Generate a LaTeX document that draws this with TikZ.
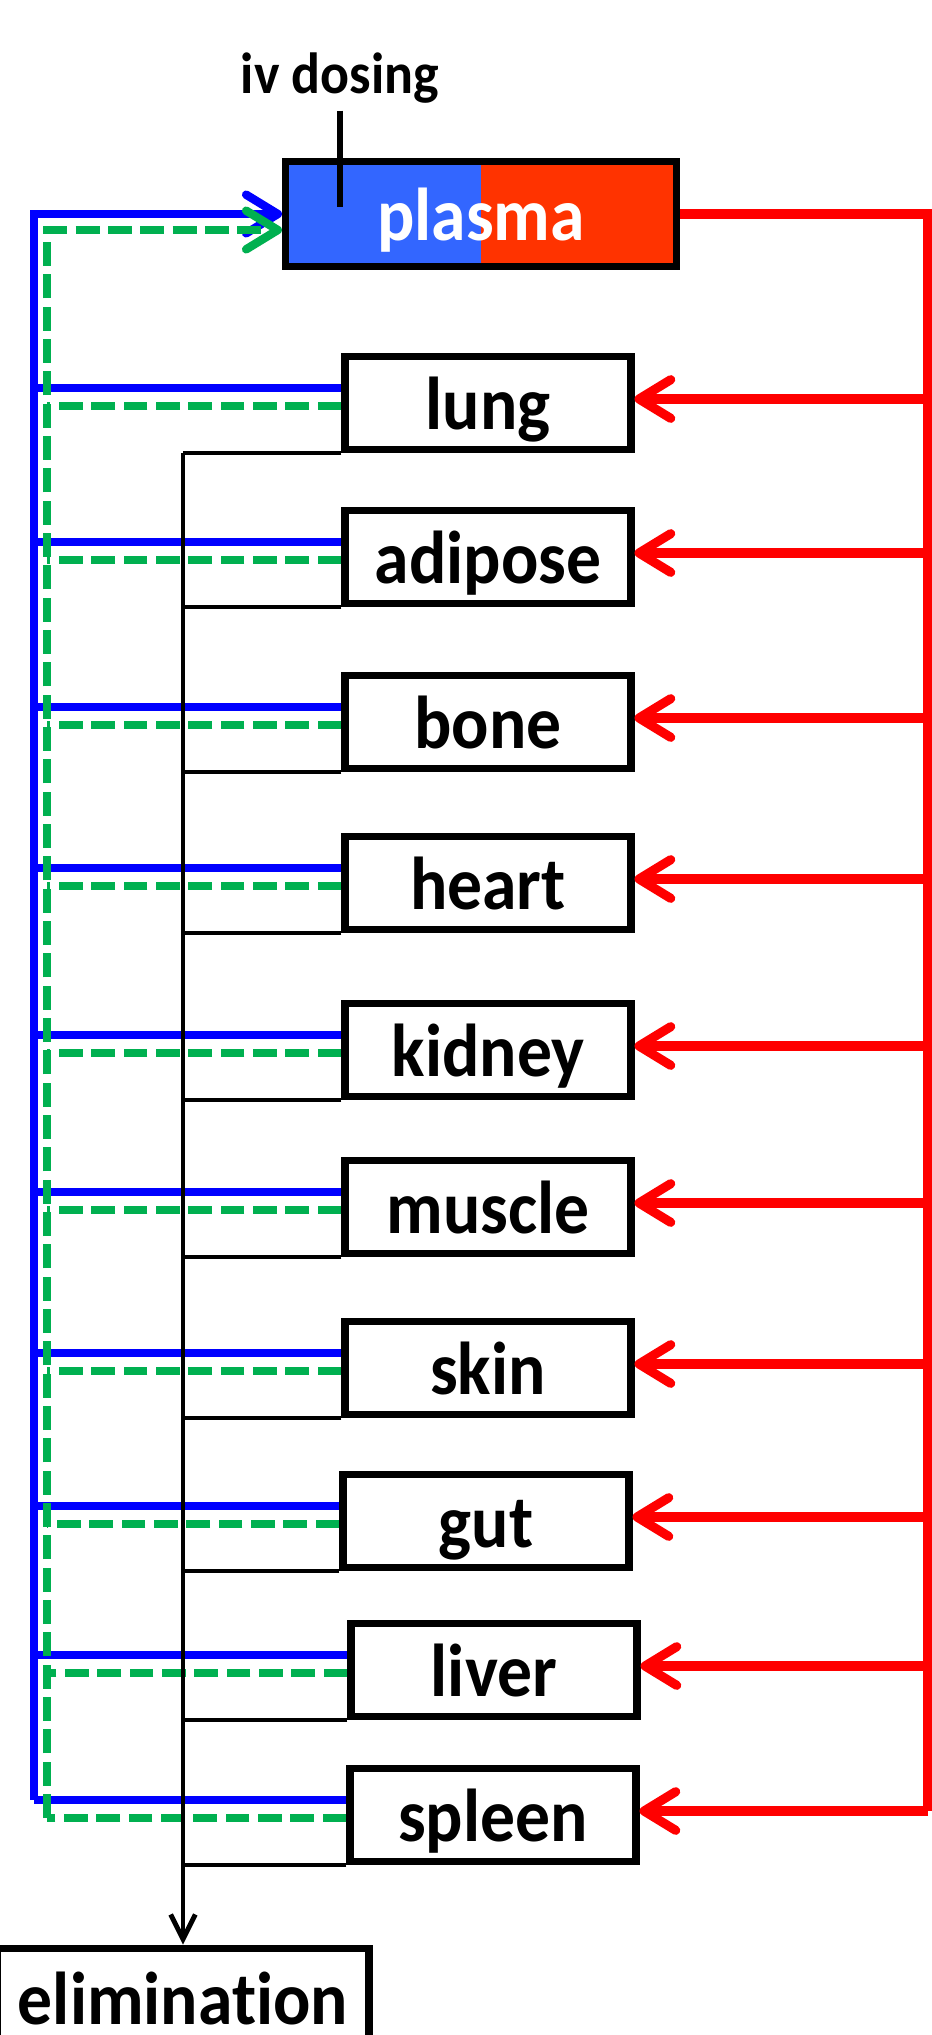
\documentclass[tikz,border=0pt]{standalone}
\usepackage{fontspec}
\setmainfont{Carlito}[FakeStretch=0.93,Ligatures=NoCommon]
\usetikzlibrary{arrows.meta,calc}
\definecolor{plasblue}{RGB}{51,102,255}
\definecolor{plasred}{RGB}{255,51,0}
\definecolor{dgreen}{RGB}{0,176,80}

\begin{document}
\begin{tikzpicture}[x=0.1mm,y=-0.1mm,
  organ/.style={draw,line width=2pt,fill=white,minimum width=28.6mm,minimum height=9.3mm,
    inner sep=0pt,text height=5.3mm,text depth=0pt,font=\bfseries\fontsize{21.3}{25}\selectfont},
  barb/.style={-{Straight Barb[length=9pt,width=11pt,round]}},
  bluel/.style={blue,line width=2.4pt},
  greenl/.style={dgreen,line width=2.4pt,dash pattern=on 6.8pt off 2.4pt},
  redl/.style={red,line width=2.6pt},
  elimline/.style={black,line width=1.4pt}]
\useasboundingbox (0,0) rectangle (932,2035);

\node[organ,minimum width=39.1mm,minimum height=10.5mm,text=white,
  path picture={\fill[plasblue] (path picture bounding box.north west) rectangle (path picture bounding box.south);
    \fill[plasred] (path picture bounding box.north) rectangle (path picture bounding box.south east);}]
  (plasma) at (481,214) {plasma};
\node[font=\bfseries\fontsize{16.5}{20}\selectfont,anchor=base,inner sep=0pt] (iv) at (340,93) {iv dosing};
\draw[line width=1.8pt] ($(iv.south)+(0,7)$) -- ($(iv.south |- plasma.center)+(0,-7)$);

\foreach \n/\x/\y in {lung/488/403,adipose/488/557,bone/488/722,heart/488/883,kidney/488/1050,
  muscle/488/1207,skin/488/1368,gut/486/1521,liver/494/1670,spleen/493/1815}
  \node[organ] (\n) at (\x,\y) {\n};
\node[organ,minimum width=37.2mm,minimum height=10mm] (elim) at (183,1998) {elimination};

\coordinate (btrunk) at (34,214);
\coordinate (gtrunk) at (47,230);
\coordinate (rtrunk) at (928,214);
\coordinate (etop) at (elim.north |- lung.south);

\foreach \n in {lung,adipose,bone,heart,kidney,muscle,skin,gut,liver,spleen}{
  \coordinate (b\n) at ($(\n.west)+(0,-15)$);
  \coordinate (g\n) at ($(\n.west)+(0,3)$);
  \coordinate (r\n) at ($(\n.east)+(0,-4)$);
  \draw[bluel] (b\n) -- (b\n -| btrunk);
  \draw[greenl] (g\n) -- (g\n -| gtrunk);
  \draw[redl,barb] (r\n -| rtrunk) -- (r\n);
  \draw[elimline] (\n.south west) -- (\n.south west -| etop);
}

\draw[bluel,barb] (bspleen -| btrunk) -- (btrunk) -- (plasma.west);
\draw[greenl,barb] (gspleen -| gtrunk) -- (gtrunk) -- (gtrunk -| plasma.west);
\draw[redl] (plasma.east) -- (rtrunk) -- (rtrunk |- rspleen);
\draw[elimline,-{Straight Barb[length=7pt,width=7pt]}] (etop) -- (elim.north);
\end{tikzpicture}
\end{document}
